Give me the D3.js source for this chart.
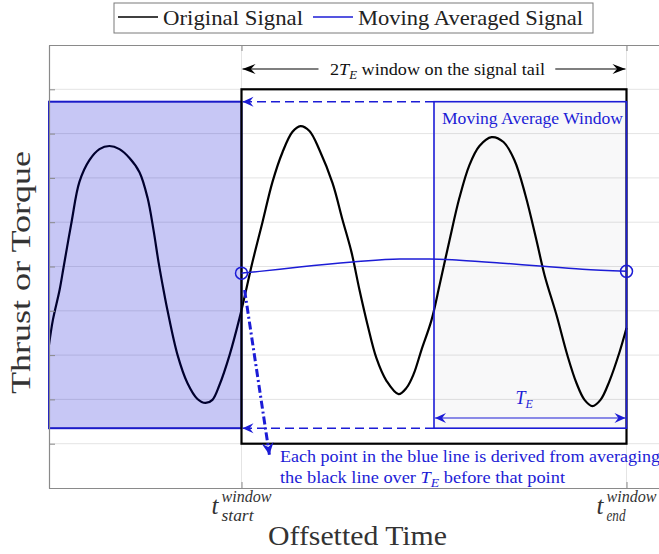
<!DOCTYPE html>
<head>
<meta charset="utf-8">
<script src="https://d3js.org/d3.v7.min.js"></script>
<style>
body { margin: 0; background-color: white; }
text { font-family: "Liberation Serif", "DejaVu Serif", serif; }
</style>
</head>
<body>
<div id="my_dataviz"></div>
<script>

// signal, time in units of T_E (t_start = 0, t_end = 2)
var signalT = [-1.00, -0.98, -0.945, -0.924, -0.883, -0.842, -0.790, -0.738, -0.686, -0.634,
  -0.582, -0.530, -0.488, -0.457, -0.431, -0.405, -0.384, -0.332, -0.281, -0.229,
  -0.187, -0.151, -0.114, -0.062, -0.010, 0.026, 0.057, 0.109, 0.161, 0.213,
  0.265, 0.306, 0.353, 0.405, 0.473, 0.525, 0.571, 0.613, 0.655, 0.701,
  0.753, 0.816, 0.857, 0.894, 0.935, 0.987, 1.029, 1.081, 1.132, 1.184,
  1.236, 1.299, 1.361, 1.418, 1.475, 1.532, 1.574, 1.636, 1.694, 1.740,
  1.782, 1.823, 1.865, 1.912, 1.964, 2.000];
var signalV = [-1.77, -1.21, -0.53, -0.01, 1.00, 1.91, 2.40, 2.65, 2.72, 2.65,
  2.45, 2.13, 1.55, 0.82, 0.10, -0.53, -1.00, -2.00, -2.63, -2.99,
  -3.08, -3.01, -2.67, -2.00, -1.16, -0.49, 0.10, 1.00, 1.91, 2.58,
  3.04, 3.17, 3.06, 2.63, 1.88, 1.05, 0.33, -0.53, -1.32, -2.07,
  -2.58, -2.88, -2.74, -2.43, -1.88, -1.21, -0.42, 0.60, 1.55, 2.29,
  2.72, 2.92, 2.81, 2.40, 1.61, 0.60, -0.19, -1.09, -2.02, -2.63,
  -3.01, -3.15, -3.01, -2.58, -1.93, -1.39];

// moving averaged signal over the window
var avgT = [0, 0.094, 0.301, 0.577, 0.821, 0.977, 1.132, 1.340, 1.548, 1.771, 2.0];
var avgV = [-0.15, -0.11, -0.01, 0.10, 0.17, 0.17, 0.14, 0.08, 0.01, -0.06, -0.11];

var yTicks = [-5, -4, -3, -2, -1, 0, 1, 2, 3, 4, 5];
var xTicks = [0, 2];
var xTickSub = ["start", "end"];
var legendNames = ["Original Signal", "Moving Averaged Signal"];

var blue = "#1c1cd6";
var width = 659, height = 554;

var svg = d3.select("#my_dataviz")
  .append("svg")
  .attr("width", width)
  .attr("height", height);

var x = d3.scaleLinear().domain([-1, 2.2]).range([49, 665]);
var y = d3.scaleLinear().domain([-5, 5]).range([488, 45]);

// stretch Times-like glyphs to the wider LaTeX widths
function fitText(sel, len) {
  sel.attr("textLength", len).attr("lengthAdjust", "spacingAndGlyphs");
}

// markers
var defs = svg.append("defs");
function addMarker(id, color, len, half) {
  defs.append("marker")
    .attr("id", id)
    .attr("viewBox", (-len - 1) + " " + (-half - 1) + " " + (len + 2) + " " + (2 * half + 2))
    .attr("refX", 0).attr("refY", 0)
    .attr("markerUnits", "userSpaceOnUse")
    .attr("markerWidth", len + 2).attr("markerHeight", 2 * half + 2)
    .attr("orient", "auto-start-reverse")
    .append("path")
    .attr("d", "M0,0 L" + (-len) + "," + (-half) + " L" + (-len * 0.65) + ",0 L" + (-len) + "," + half + "Z")
    .style("fill", color);
}
addMarker("arrBlack", "black", 13, 5);
addMarker("arrBlue", blue, 11, 5);
addMarker("arrBlueBig", blue, 12, 6);

// grid
svg.append("g").selectAll("line").data(yTicks.slice(1, -1)).enter().append("line")
  .attr("x1", x(-1)).attr("x2", x(2.2))
  .attr("y1", function(d) { return y(d); }).attr("y2", function(d) { return y(d); })
  .style("stroke", "#e4e4e4").style("stroke-width", 1);
svg.append("g").selectAll("line").data(xTicks).enter().append("line")
  .attr("x1", function(d) { return x(d); }).attr("x2", function(d) { return x(d); })
  .attr("y1", y(5)).attr("y2", y(-5))
  .style("stroke", "#e4e4e4").style("stroke-width", 1);

var boxTop = 3.72, boxBottom = -3.65;

// moving average window fill
svg.append("rect")
  .attr("x", x(1)).attr("y", y(boxTop))
  .attr("width", x(2) - x(1)).attr("height", y(boxBottom) - y(boxTop))
  .style("fill", "rgba(30,30,60,0.03)");

// original signal
var pts = signalT.map(function(t, i) { return [t, signalV[i]]; });
svg.append("path")
  .datum(pts)
  .attr("d", d3.line().x(function(d) { return x(d[0]); }).y(function(d) { return y(d[1]); })
    .curve(d3.curveCatmullRom))
  .style("fill", "none").style("stroke", "black").style("stroke-width", 2.2);

// blue shaded box before the window
svg.append("rect")
  .attr("x", x(-1)).attr("y", y(boxTop))
  .attr("width", x(0) - x(-1)).attr("height", y(boxBottom) - y(boxTop))
  .style("fill", "rgba(0,0,208,0.22)")
  .style("stroke", "#1a1ac8").style("stroke-width", 2);

// 2T_E window
svg.append("rect")
  .attr("x", x(0)).attr("y", y(4))
  .attr("width", x(2) - x(0)).attr("height", y(-4) - y(4))
  .style("fill", "none").style("stroke", "black").style("stroke-width", 2.2);

// moving average window outline
svg.append("rect")
  .attr("x", x(1)).attr("y", y(boxTop))
  .attr("width", x(2) - x(1)).attr("height", y(boxBottom) - y(boxTop))
  .style("fill", "none").style("stroke", blue).style("stroke-width", 1.6);

// dashed arrows back to t_start
[boxTop, boxBottom].forEach(function(v) {
  svg.append("line")
    .attr("x1", x(1)).attr("x2", x(0) + 1)
    .attr("y1", y(v)).attr("y2", y(v))
    .attr("marker-end", "url(#arrBlue)")
    .style("stroke", blue).style("stroke-width", 1.5)
    .style("stroke-dasharray", "9,5");
});

// T_E arrow
svg.append("line")
  .attr("x1", x(1) + 1).attr("x2", x(2) - 1)
  .attr("y1", y(-3.42)).attr("y2", y(-3.42))
  .attr("marker-start", "url(#arrBlue)").attr("marker-end", "url(#arrBlue)")
  .style("stroke", blue).style("stroke-width", 1.2);
var te = svg.append("text")
  .attr("x", (x(1) + x(2)) / 2 - 6).attr("y", y(-3.1))
  .attr("text-anchor", "middle")
  .style("fill", blue).style("font-size", "18px");
te.append("tspan").style("font-style", "italic").text("T");
te.append("tspan").attr("dy", 4).style("font-style", "italic").style("font-size", "12px").text("E");

// moving averaged signal
var apts = avgT.map(function(t, i) { return [t, avgV[i]]; });
svg.append("path")
  .datum(apts)
  .attr("d", d3.line().x(function(d) { return x(d[0]); }).y(function(d) { return y(d[1]); })
    .curve(d3.curveMonotoneX))
  .style("fill", "none").style("stroke", blue).style("stroke-width", 1.5);
svg.selectAll(".endpt").data([apts[0], apts[apts.length - 1]]).enter().append("circle")
  .attr("cx", function(d) { return x(d[0]); }).attr("cy", function(d) { return y(d[1]); })
  .attr("r", 6)
  .style("fill", "none").style("stroke", blue).style("stroke-width", 1.5);

// dash-dot pointer
svg.append("line")
  .attr("x1", x(0.016)).attr("y1", y(-0.53))
  .attr("x2", x(0.145)).attr("y2", y(-4.25))
  .attr("marker-end", "url(#arrBlueBig)")
  .style("stroke", blue).style("stroke-width", 3)
  .style("stroke-dasharray", "8,3,2,3");

// top annotation
svg.append("line")
  .attr("x1", x(0.4)).attr("x2", x(0) + 1).attr("y1", 69).attr("y2", 69)
  .attr("marker-end", "url(#arrBlack)")
  .style("stroke", "black").style("stroke-width", 1.2);
svg.append("line")
  .attr("x1", x(1.63)).attr("x2", x(2) - 1).attr("y1", 69).attr("y2", 69)
  .attr("marker-end", "url(#arrBlack)")
  .style("stroke", "black").style("stroke-width", 1.2);
var tt = svg.append("text")
  .attr("x", 330).attr("y", 75)
  .style("font-size", "17px").style("fill", "#111");
tt.append("tspan").text("2");
tt.append("tspan").style("font-style", "italic").text("T");
tt.append("tspan").attr("dy", 4).style("font-size", "12px").style("font-style", "italic").text("E");
tt.append("tspan").attr("dy", -4).text(" window on the signal tail");
fitText(tt, 215);

svg.append("text")
  .attr("x", 442).attr("y", 124)
  .style("font-size", "16px").style("fill", blue)
  .text("Moving Average Window")
  .call(fitText, 181);

// bottom explanation
svg.append("text")
  .attr("x", 280).attr("y", 462)
  .style("font-size", "16px").style("fill", blue)
  .text("Each point in the blue line is derived from averaging")
  .call(fitText, 380);
var bt = svg.append("text")
  .attr("x", 280).attr("y", 483)
  .style("font-size", "16px").style("fill", blue);
bt.append("tspan").text("the black line over ");
bt.append("tspan").style("font-style", "italic").text("T");
bt.append("tspan").attr("dy", 4).style("font-size", "12px").style("font-style", "italic").text("E");
bt.append("tspan").attr("dy", -4).text(" before that point");
fitText(bt, 285);

// axes
function styleAxis(g) {
  g.selectAll("path").style("stroke", "#8a8a8a").style("stroke-width", 1.2);
  g.selectAll("line").style("stroke", "#8a8a8a");
}
svg.append("g").attr("transform", "translate(" + x(-1) + ",0)")
  .call(d3.axisLeft(y).tickValues(yTicks).tickSize(-6).tickSizeOuter(0).tickFormat(""))
  .call(styleAxis);
svg.append("g").attr("transform", "translate(" + x(2.2) + ",0)")
  .call(d3.axisRight(y).tickValues(yTicks).tickSize(-6).tickSizeOuter(0).tickFormat(""))
  .call(styleAxis);
svg.append("g").attr("transform", "translate(0," + y(-5) + ")")
  .call(d3.axisBottom(x).tickValues(xTicks).tickSize(-6).tickSizeOuter(0).tickFormat(""))
  .call(styleAxis);
svg.append("g").attr("transform", "translate(0," + y(5) + ")")
  .call(d3.axisTop(x).tickValues(xTicks).tickSize(-6).tickSizeOuter(0).tickFormat(""))
  .call(styleAxis);

// x tick labels t_start^window, t_end^window
var scriptLen = [32, 19];
xTicks.forEach(function(t, i) {
  var x0 = x(t);
  svg.append("text").attr("x", x0 - 30).attr("y", 514)
    .style("font-size", "25px").style("font-style", "italic").style("fill", "#333")
    .text("t");
  svg.append("text").attr("x", x0 - 20).attr("y", 502)
    .style("font-size", "16px").style("font-style", "italic").style("fill", "#333")
    .text("window")
    .call(fitText, 50);
  svg.append("text").attr("x", x0 - 20).attr("y", 521)
    .style("font-size", "16px").style("font-style", "italic").style("fill", "#333")
    .text(xTickSub[i])
    .call(fitText, scriptLen[i]);
});

// axis titles
svg.append("text")
  .attr("x", 268).attr("y", 545)
  .style("font-size", "28px").style("fill", "#333")
  .text("Offsetted Time")
  .call(fitText, 179);
svg.append("text")
  .attr("transform", "translate(30,394) rotate(-90)")
  .style("font-size", "28px").style("fill", "#333")
  .text("Thrust or Torque")
  .call(fitText, 243);

// legend
svg.append("rect")
  .attr("x", 114).attr("y", 3).attr("width", 479).attr("height", 30)
  .style("fill", "white").style("stroke", "#7a7a7a").style("stroke-width", 1);
var legX = [118, 313];
var legTextX = [163, 358];
var legTextLen = [140, 225];
var legColors = ["black", blue];
legendNames.forEach(function(name, i) {
  svg.append("line")
    .attr("x1", legX[i]).attr("x2", legX[i] + 40).attr("y1", 17).attr("y2", 17)
    .style("stroke", legColors[i]).style("stroke-width", 1.6);
  svg.append("text")
    .attr("x", legTextX[i]).attr("y", 25)
    .style("font-size", "21px").style("fill", "#222")
    .text(name)
    .call(fitText, legTextLen[i]);
});

</script>
</body>
